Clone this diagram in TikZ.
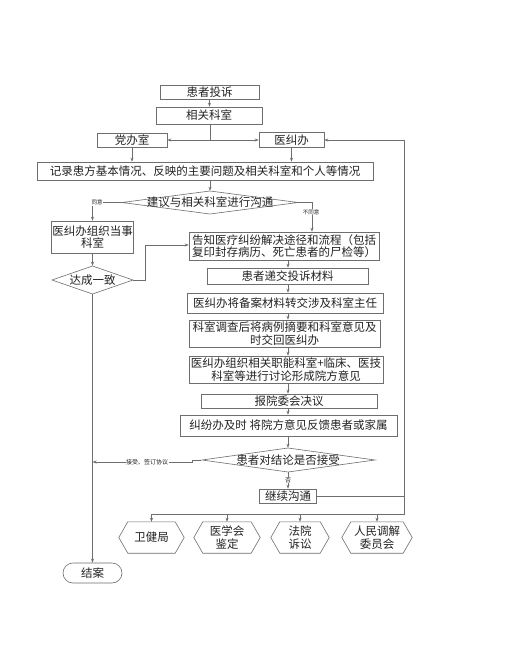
\documentclass[tikz,border=0pt]{standalone}
\usepackage{fontspec}
\setmainfont{Noto Sans CJK SC}
\usetikzlibrary{arrows.meta,calc}
\definecolor{linec}{HTML}{6E6E6E}
\definecolor{txtc}{HTML}{222222}
\begin{document}
\begin{tikzpicture}[x=1pt,y=-1pt,
  box/.style={draw=linec,line width=0.6pt,fill=white,inner sep=1pt,text=txtc,align=center,font=\fontsize{11.5}{12.5}\selectfont},
  dtext/.style={inner sep=1pt,text=txtc,align=center,font=\fontsize{11.5}{12.5}\selectfont},
  conn/.style={draw=linec,line width=0.6pt},
  arr/.style={conn,-{Stealth[length=4pt,width=3pt]}},
  lbl/.style={fill=white,inner sep=0.5pt,text=txtc,font=\fontsize{5.5}{6}\selectfont},
  shapeline/.style={draw=linec,line width=0.6pt,fill=white},
]
\useasboundingbox (0,0) rectangle (510,669);
\fill[white] (0,0) rectangle (510,669);

% top boxes
\node[box,minimum width=99pt,minimum height=14pt] (p1) at (209.5,92) {患者投诉};
\node[box,minimum width=106pt,minimum height=17pt] (p2) at (209,115.5) {相关科室};
\node[box,minimum width=70pt,minimum height=14pt] (dang) at (132,140) {党办室};
\node[box,minimum width=65pt,minimum height=15pt] (yj) at (291.5,140) {医纠办};
\node[box,minimum width=336pt,minimum height=18pt] (rec) at (205,171) {记录患方基本情况、反映的主要问题及相关科室和个人等情况};

% diamond 1
\path[shapeline] (122,202.5) -- (210,191) -- (298,202.5) -- (210,214) -- cycle;
\node[dtext,minimum width=176pt,minimum height=23pt] (d1) at (210,202.5) {建议与相关科室进行沟通};

% left branch
\node[box,minimum width=82pt,minimum height=32pt] (org) at (92.5,237) {医纠办组织当事\\科室};
\path[shapeline] (52,280) -- (92.5,266) -- (133,280) -- (92.5,294) -- cycle;
\node[dtext,minimum width=81pt,minimum height=28pt] (d2) at (92.5,280) {达成一致};
\node[box,rounded corners=10pt,minimum width=59pt,minimum height=20pt] (fin) at (92.5,573) {结案};

% main chain
\node[box,minimum width=190pt,minimum height=28pt] (inform) at (284,246) {告知医疗纠纷解决途径和流程（包括\\复印封存病历、死亡患者的尸检等）};
\node[box,minimum width=161pt,minimum height=16pt] (sub) at (287.5,276) {患者递交投诉材料};
\node[box,minimum width=196pt,minimum height=20pt] (transfer) at (285,303) {医纠办将备案材料转交涉及科室主任};
\node[box,minimum width=191pt,minimum height=27pt] (survey) at (284.5,333.5) {科室调查后将病例摘要和科室意见及\\时交回医纠办};
\node[box,minimum width=194pt,minimum height=27pt] (orgdisc) at (286,369.5) {医纠办组织相关职能科室+临床、医技\\科室等进行讨论形成院方意见};
\node[box,minimum width=176pt,minimum height=14pt] (report) at (289,401) {报院委会决议};
\node[box,minimum width=217pt,minimum height=21pt] (feed) at (288.5,425.5) {纠纷办及时 将院方意见反馈患者或家属};
\path[shapeline] (202,460) -- (288,448) -- (375,460) -- (288,472) -- cycle;
\node[dtext,minimum width=173pt,minimum height=24pt] (d3) at (288,460) {患者对结论是否接受};
\node[box,minimum width=57pt,minimum height=14pt] (cont) at (288,496) {继续沟通};

% hexagons
\foreach \n/\cx/\w/\t in {h1/151.5/65/卫健局, h2/227/66/{医学会\\鉴定}, h3/300/58/{法院\\诉讼}, h4/377/70/{人民调解\\委员会}}{
  \node[dtext,minimum width=\w pt,minimum height=31pt] (\n) at (\cx,537.5) {};
  \path[shapeline] (\n.west) -- ([xshift=9pt]\n.north west) -- ([xshift=-9pt]\n.north east) -- (\n.east) -- ([xshift=-9pt]\n.south east) -- ([xshift=9pt]\n.south west) -- cycle;
  \node[dtext] at (\n) {\t};
}

% connectors top
\draw[arr] (p1.south) -- (p1.south |- p2.north);
\coordinate (j1) at (210,140);
\draw[conn] (p2.south -| j1) -- (j1);
\draw[arr] (j1) -- (dang.east |- j1);
\draw[arr] (j1) -- (yj.west |- j1);
\draw[arr] (dang.south) -- (dang.south |- rec.north);
\draw[arr] (yj.south) -- (yj.south |- rec.north);
\draw[arr] (rec.south -| j1) -- (d1.north -| j1);

% diamond 1 branches
\coordinate (cL) at (92.5,202.5);
\draw[arr] (d1.west) -- (cL) -- (org.north);
\node[lbl] at (97,202.5) {同意};
\coordinate (cR) at (312,202.5);
\draw[arr] (d1.east) -- (cR) -- (cR |- inform.north);
\node[lbl] at (311,212) {不同意};

% left chain
\draw[arr] (org.south) -- (d2.north);
\draw[arr] (d2.south) -- (fin.north);
\coordinate (k1) at (145,280);
\coordinate (k2) at (145,245);
\draw[arr] (d2.east) -- (k1) -- (k2) -- (k2 -| inform.west);

% main chain arrows
\coordinate (cx) at (288,0);
\foreach \a/\b in {inform/sub,sub/transfer,transfer/survey,survey/orgdisc,orgdisc/report,report/feed,feed/d3}{
  \draw[arr] (\a.south -| cx) -- (\b.north -| cx);
}
\draw[arr] (d3.south) -- (cont.north);
\node[lbl,font=\fontsize{6}{7}\selectfont] at (288,480) {否};

% accept branch
\coordinate (a1) at (192,460);
\coordinate (a2) at (192,462);
\coordinate (a3) at (92.5,462);
\draw[arr] (d3.west) -- (a1) -- (a2) -- (a3);
\node[lbl,font=\fontsize{6}{7}\selectfont] at (147,462) {接受、签订协议};

% feedback loop
\coordinate (rr) at (404,496);
\draw[arr] (cont.east) -- (rr) -- (rr |- yj.east) -- (yj.east);
\coordinate (bl) at (404,514);
\draw[conn] (rr) -- (bl) -- (bl -| h1.north);
\foreach \n in {h1,h2,h3,h4}{
  \draw[arr] (bl -| \n.north) -- (\n.north);
}
\end{tikzpicture}
\end{document}
